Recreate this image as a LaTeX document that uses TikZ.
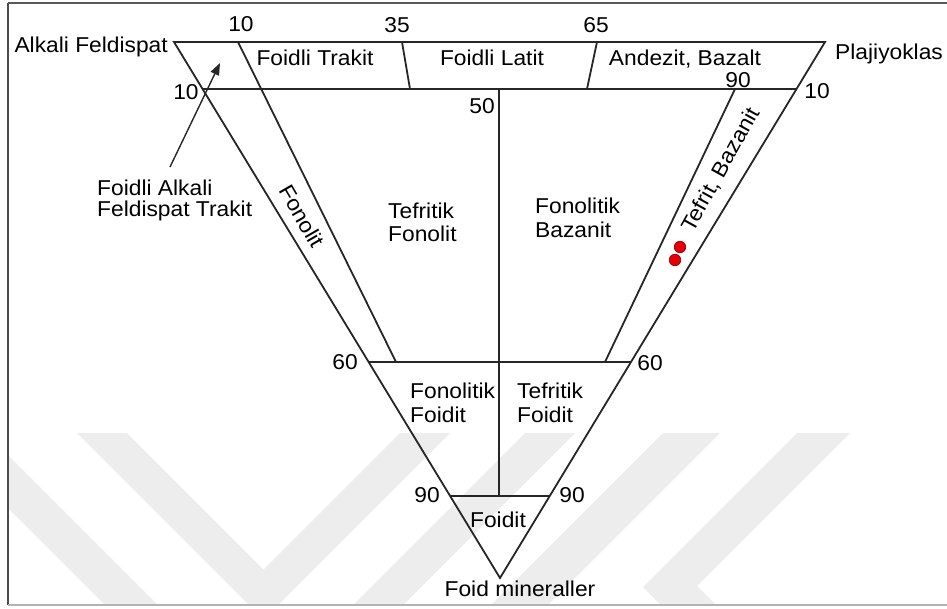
\documentclass[tikz,border=0pt]{standalone}
\usepackage{fontspec}
\setmainfont{Liberation Sans}[FakeStretch=1.06]
\usetikzlibrary{calc,arrows.meta}
\definecolor{dotred}{RGB}{228,0,10}
\definecolor{dotedge}{RGB}{160,0,0}
\begin{document}
\begin{tikzpicture}[x=1pt,y=-1pt,
  lbl/.style={font=\fontsize{21.5}{23}\selectfont, inner sep=0pt, text=black},
  tri/.style={line width=1.8pt, black!85, line join=miter},
  wm/.style={fill=black!7, draw=none},
  reddot/.style={circle, inner sep=0pt, minimum size=11.5pt, fill=dotred, draw=dotedge, line width=0.7pt},
  arr/.style={line width=1.4pt, black!85, -{Triangle[length=12pt,width=9pt]}}]
\useasboundingbox (0,0) rectangle (947,608);
% watermark
\begin{scope}
\clip (8,3) rectangle (947,605);
\fill[wm] (0,447) -- (158,605) -- (105,605) -- (0,500) -- cycle;
\fill[wm] (77,433) -- (127,433) -- (263.5,569.5) -- (400,433) -- (450,433) -- (263.5,619.5) -- cycle;
\fill[wm] (525,433) -- (575,433) -- (403,605) -- (353,605) -- cycle;
\fill[wm] (663,433) -- (720,433) -- (548,605) -- (491,605) -- cycle;
\fill[wm] (797,433) -- (850,433) -- (697,586) -- (716,605) -- (661,605) -- (643,587) -- cycle;
\end{scope}
% frame
\draw[black!70, line width=2pt] (8,3) -- (8,605);
\draw[black!65, line width=1.2pt] (8,3) -- (947,3);
\draw[black!30, line width=1.2pt] (8,605) -- (947,605);
% triangle geometry
\coordinate (TL) at (174,42);
\coordinate (TR) at (825,42);
\coordinate (AP) at (500,578);
\coordinate (L10) at ($(TL)!0.08769!(AP)$);
\coordinate (R10) at ($(TR)!0.08769!(AP)$);
\coordinate (L60) at ($(TL)!0.5970!(AP)$);
\coordinate (R60) at ($(TR)!0.5970!(AP)$);
\coordinate (L90) at ($(TL)!0.8470!(AP)$);
\coordinate (R90) at ($(TR)!0.8470!(AP)$);
\coordinate (T10) at (238,42);
\coordinate (B10) at (396,362);
\coordinate (T35) at (402,42);
\coordinate (B35) at (410,89);
\coordinate (T65) at (597,42);
\coordinate (B65) at (587,89);
\coordinate (T50) at (499,89);
\coordinate (B50) at (499,496);
\coordinate (T90) at (735,89);
\coordinate (B90) at (605,362);
\draw[tri] (TL) -- (TR) -- (AP) -- cycle;
\draw[tri] (L10) -- (R10);
\draw[tri] (L60) -- (R60);
\draw[tri] (L90) -- (R90);
\draw[tri] (T10) -- (B10);
\draw[tri] (T35) -- (B35);
\draw[tri] (T65) -- (B65);
\draw[tri] (T50) -- (B50);
\draw[tri] (T90) -- (B90);
% corner labels
\node[lbl, anchor=base east] (af) at (168,52) {Alkali Feldispat};
\node[lbl, anchor=base west] (pl) at (835,59) {Plajiyoklas};
\node[lbl, anchor=base] (fm) at (520,596) {Foid mineraller};
% numbers
\node[lbl, anchor=base] (n10a) at (241,31) {10};
\node[lbl, anchor=base] (n35) at (397,32) {35};
\node[lbl, anchor=base] (n65) at (596,32) {65};
\node[lbl, anchor=base] (n10b) at (186,99) {10};
\node[lbl, anchor=base] (n50) at (482,113) {50};
\node[lbl, anchor=base] (n90a) at (738,87) {90};
\node[lbl, anchor=base] (n10c) at (817,98) {10};
\node[lbl, anchor=base] (n60a) at (345,369) {60};
\node[lbl, anchor=base] (n60b) at (650,370) {60};
\node[lbl, anchor=base] (n90b) at (427,502) {90};
\node[lbl, anchor=base] (n90c) at (572,502) {90};
% field labels
\node[lbl, anchor=base] (ft) at (315,65) {Foidli Trakit};
\node[lbl, anchor=base] (fl) at (492,65) {Foidli Latit};
\node[lbl, anchor=base] (ab) at (685,65) {Andezit, Bazalt};
\node[lbl, anchor=north west, align=left, font=\fontsize{21.5}{21}\selectfont] (fat) at (97,180) {Foidli Alkali\\Feldispat Trakit};
\node[lbl, rotate=-60] (fon) at (302,216) {Fonolit};
\node[lbl, anchor=north west, align=left] (tf) at (388,203) {Tefritik\\Fonolit};
\node[lbl, anchor=north west, align=left, font=\fontsize{21.5}{24}\selectfont] (fb) at (535,198) {Fonolitik\\Bazanit};
\node[lbl, rotate=61] (tb) at (721,170) {Tefrit, Bazanit};
\node[lbl, anchor=north west, align=left, font=\fontsize{21.5}{24}\selectfont] (ff) at (410,383) {Fonolitik\\Foidit};
\node[lbl, anchor=north west, align=left, font=\fontsize{21.5}{24}\selectfont] (tff) at (517,383) {Tefritik\\Foidit};
\node[lbl, anchor=base] (fo) at (498,527) {Foidit};
% arrow
\coordinate (arrS) at (170,167);
\coordinate (arrE) at (220,63);
\draw[arr] (arrS) -- (arrE);
% samples
\node[reddot] (d1) at (680,247) {};
\node[reddot] (d2) at (675,260) {};
\end{tikzpicture}
\end{document}
